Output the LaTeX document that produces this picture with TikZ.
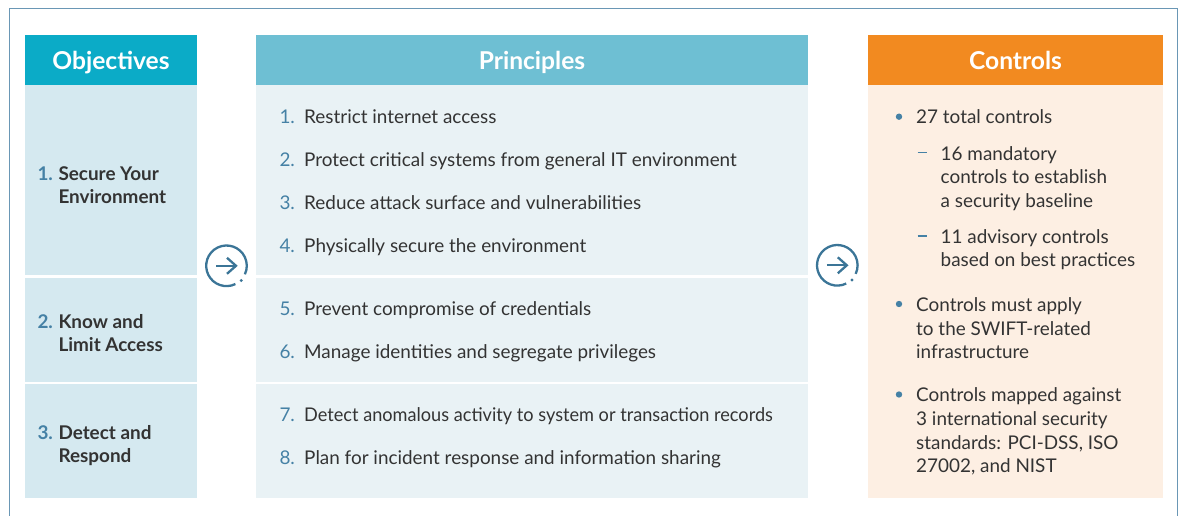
\documentclass[tikz,border=0pt]{standalone}
\usepackage{fontspec}
\setmainfont{Lato}
\definecolor{objhead}{HTML}{0BABC7}
\definecolor{prihead}{HTML}{6EBFD3}
\definecolor{conhead}{HTML}{F28A20}
\definecolor{objbody}{HTML}{D5E9F0}
\definecolor{pribody}{HTML}{E9F2F5}
\definecolor{conbody}{HTML}{FDEFE3}
\definecolor{framecol}{HTML}{6A97B5}
\definecolor{numcol}{HTML}{4581A5}
\definecolor{txtcol}{HTML}{333333}
\definecolor{arrcol}{HTML}{3B7597}
\begin{document}
\begin{tikzpicture}[x=1pt,y=-1pt,
  cell/.style={inner sep=0pt, outer sep=0pt, anchor=north west},
  hdrtext/.style={inner sep=0pt, anchor=base, text=white, font=\fontsize{24.6}{28}\selectfont\bfseries},
  body/.style={inner sep=0pt, anchor=base west, text=txtcol, font=\fontsize{18.9}{23.7}\selectfont, align=left},
  bodyb/.style={body, font=\fontsize{18.9}{23.7}\selectfont\bfseries},
  num/.style={inner sep=0pt, anchor=base west, text=numcol, font=\fontsize{18.9}{23.7}\selectfont},
  numb/.style={num, font=\fontsize{18.9}{23.7}\selectfont\bfseries},
  ring/.style={circle, minimum size=40pt, inner sep=0pt},
  ringline/.style={draw=arrcol, line width=2.3pt},
  bul/.style={circle, fill=numcol, inner sep=0pt, minimum size=6.4pt},
  dashmark/.style={draw=numcol, line width=1.3pt}
]
\useasboundingbox (0,0) rectangle (1181,516);
% outer frame
\draw[framecol, line width=1pt] (9,516) -- (9,9) -- (1177,9) -- (1177,516);

% Objectives column
\node[cell, fill=objhead, minimum width=172pt, minimum height=50pt] (objh) at (25,35) {};
\node[cell, fill=objbody, minimum width=172pt, minimum height=190pt] (obj1) at (25,85) {};
\node[cell, fill=objbody, minimum width=172pt, minimum height=104pt] (obj2) at (25,277.5) {};
\node[cell, fill=objbody, minimum width=172pt, minimum height=114pt] (obj3) at (25,383.5) {};
\node[hdrtext] (objt) at (111,69.3) {Objectives};

% Principles column
\node[cell, fill=prihead, minimum width=552pt, minimum height=50pt] (prih) at (256,35) {};
\node[cell, fill=pribody, minimum width=552pt, minimum height=190pt] (pri1) at (256,85) {};
\node[cell, fill=pribody, minimum width=552pt, minimum height=104pt] (pri2) at (256,277.5) {};
\node[cell, fill=pribody, minimum width=552pt, minimum height=114pt] (pri3) at (256,383.5) {};
\node[hdrtext] (prit) at (532,69.3) {Principles};

% Controls column
\node[cell, fill=conhead, minimum width=295pt, minimum height=50pt] (conh) at (868,35) {};
\node[cell, fill=conbody, minimum width=295pt, minimum height=412.5pt] (con1) at (868,85) {};
\node[hdrtext] (cont) at (1015.5,69.3) {Controls};

% Objectives items (base anchor = baseline of last line)
\node[numb] (on1) at (37.3,180) {1.};
\node[bodyb] (ot1) at (58.3,203.7) {Secure Your\\Environment};
\node[numb] (on2) at (37.3,328) {2.};
\node[bodyb] (ot2) at (58.3,351.7) {Know and\\Limit Access};
\node[numb] (on3) at (37.3,439) {3.};
\node[bodyb] (ot3) at (58.3,462.7) {Detect and\\Respond};

% Principles items
\node[num] (pn1) at (279.3,124) {1.};
\node[body] (pt1) at (304,124) {Restrict internet access};
\node[num] (pn2) at (279.3,166.7) {2.};
\node[body] (pt2) at (304,166.7) {Protect critical systems from general IT environment};
\node[num] (pn3) at (279.3,209.3) {3.};
\node[body] (pt3) at (304,209.3) {Reduce attack surface and vulnerabilities};
\node[num] (pn4) at (279.3,252) {4.};
\node[body] (pt4) at (304,252) {Physically secure the environment};
\node[num] (pn5) at (279.3,315) {5.};
\node[body] (pt5) at (304,315) {Prevent compromise of credentials};
\node[num] (pn6) at (279.3,358) {6.};
\node[body] (pt6) at (304,358) {Manage identities and segregate privileges};
\node[num] (pn7) at (279.3,421.7) {7.};
\node[body] (pt7) at (304,421.7) {\scalebox{0.96}[1]{Detect anomalous activity to system or transaction records}};
\node[num] (pn8) at (279.3,464.3) {8.};
\node[body] (pt8) at (304,464.3) {Plan for incident response and information sharing};

% Controls items
\node[bul] (b1) at (899,116.7) {};
\node[body] (ct1) at (916,124) {27 total controls};
\coordinate (d1a) at (917.5,152.7);
\coordinate (d1b) at (926.5,152.7);
\draw[dashmark] (d1a) -- (d1b);
\node[body] (ct2) at (940.5,207.4) {16 mandatory\\controls to establish\\a security baseline};
\coordinate (d2a) at (917.5,236);
\coordinate (d2b) at (926.5,236);
\draw[dashmark] (d2a) -- (d2b);
\node[body] (ct3) at (940.5,266.7) {11 advisory controls\\based on best practices};
\node[bul] (b2) at (899,304) {};
\node[body] (ct4) at (916,358.9) {Controls must apply\\to the SWIFT-related\\infrastructure};
\node[bul] (b3) at (899,394.5) {};
\node[body] (ct5) at (916,472.8) {Controls mapped against\\3 international security\\standards: PCI-DSS, ISO\\27002, and NIST};

% arrow rings
\foreach \c/\px/\py in {r1/226.5/265.8, r2/837.3/265.3}{
  \node[ring] (\c) at (\px,\py) {};
  \draw[ringline] ([shift={(64:20.3)}]\c.center) arc[start angle=64, end angle=385, radius=20.3];
  \fill[arrcol] ([shift={(45:20.8)}]\c.center) circle (1.7);
  \draw[ringline, line cap=butt] ([shift={(-10.5,0)}]\c.center) -- ([shift={(9.5,0)}]\c.center);
  \draw[ringline, line join=miter] ([shift={(0.5,-8)}]\c.center) -- ([shift={(9.5,0)}]\c.center) -- ([shift={(0.5,8)}]\c.center);
}
\end{tikzpicture}
\end{document}
